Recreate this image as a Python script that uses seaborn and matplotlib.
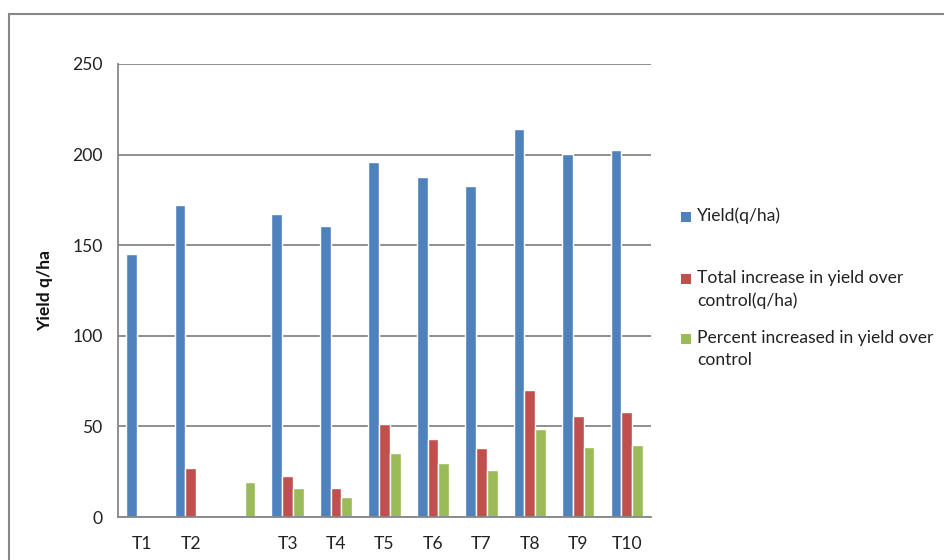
import numpy as np
import pandas as pd
import matplotlib
matplotlib.use("Agg")
import matplotlib.pyplot as plt
from matplotlib.patches import Rectangle
from matplotlib.ticker import FixedLocator, NullFormatter
import seaborn as sns

# Treatments (the unlabeled slot carries a lone percent value)
categories = ["T1", "T2", " ", "T3", "T4", "T5", "T6", "T7", "T8", "T9", "T10"]
yield_qha = [145.0, 172.2, np.nan, 167.2, 160.4, 195.9, 187.6, 182.5, 214.3, 200.5, 202.7]
increase_qha = [np.nan, 27.0, np.nan, 22.8, 16.0, 51.3, 43.2, 37.9, 70.1, 55.6, 58.1]
percent_increase = [np.nan, np.nan, 19.1, 16.0, 11.0, 35.3, 29.8, 26.1, 48.6, 38.5, 39.9]

series_names = [
    "Yield(q/ha)",
    "Total increase in yield over\ncontrol(q/ha)",
    "Percent increased in yield over\ncontrol",
]
colors = ["#4F81BD", "#C0504D", "#9BBB59"]
y_ticks = [0, 50, 100, 150, 200, 250]

df = pd.DataFrame({
    "Treatment": categories * 3,
    "Value": yield_qha + increase_qha + percent_increase,
    "Series": [series_names[0]] * len(categories)
    + [series_names[1]] * len(categories)
    + [series_names[2]] * len(categories),
})

sns.set_style("white")
plt.rcParams["font.family"] = ["Lato", "DejaVu Sans"]

W, H = 945, 560
fs = 12.6
fig = plt.figure(figsize=(W / 100, H / 100), dpi=100)
ax = fig.add_axes([118 / W, 1 - 517 / H, (651 - 118) / W, (517 - 64) / H])

sns.barplot(
    data=df, x="Treatment", y="Value", hue="Series",
    order=categories, hue_order=series_names, palette=colors,
    width=3 / 4.5, saturation=1, errorbar=None, legend=False, ax=ax,
)

grid_c = "#868686"
ax.set_xlim(-0.5, len(categories) - 0.5)
ax.set_ylim(0, 250)
ax.set_yticks(y_ticks)
ax.yaxis.grid(True, color=grid_c, linewidth=1.3)
ax.set_axisbelow(True)
for s in ["top", "right"]:
    ax.spines[s].set_visible(False)
for s in ["left", "bottom"]:
    ax.spines[s].set_color(grid_c)
    ax.spines[s].set_linewidth(1.3)

ax.tick_params(axis="y", length=5, width=1.3, color=grid_c, labelsize=fs,
               labelcolor="#222222", pad=6)
ax.tick_params(axis="x", which="major", length=0, labelsize=fs,
               labelcolor="#222222", pad=14)
ax.xaxis.set_minor_locator(FixedLocator(np.arange(-0.5, len(categories), 1.0)))
ax.xaxis.set_minor_formatter(NullFormatter())
ax.tick_params(axis="x", which="minor", length=6, width=1.3, color=grid_c)
ax.set_xlabel("")
ax.set_ylabel("Yield q/ha", fontsize=fs, fontweight="bold", color="#111111",
              labelpad=14)

# Outer chart border
fig.patches.append(Rectangle((9 / W, -0.05), 1.1, 1 - 14 / H + 0.05,
                             transform=fig.transFigure, fill=False,
                             edgecolor="#868686", linewidth=1.5))

# Legend on the right
legend_rows = [216.7, 279.0, 339.0]
for name, col, yc in zip(series_names, colors, legend_rows):
    fig.patches.append(Rectangle((681.5 / W, 1 - (yc + 5) / H), 10 / W, 10 / H,
                                 transform=fig.transFigure, facecolor=col,
                                 edgecolor="none"))
    fig.text(697 / W, 1 - (yc - 9.5) / H, name, fontsize=fs, color="#222222",
             va="top", ha="left", linespacing=1.5)

fig.savefig("out.png", dpi=100, facecolor="white")
